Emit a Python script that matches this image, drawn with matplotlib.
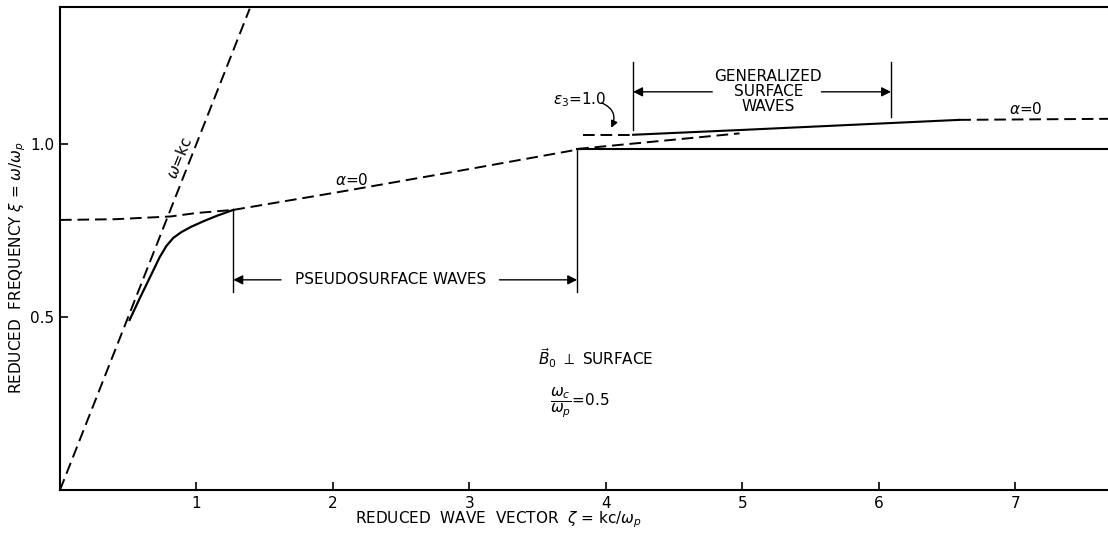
import numpy as np
import matplotlib.pyplot as plt

plt.rcParams['font.family'] = ['DejaVu Sans']
plt.rcParams['mathtext.fontset'] = 'dejavusans'

# light line omega = kc
light_x = [0.0, 1.39]
light_y = [0.0, 1.39]

# upper dashed branch near k = 0
upper_x = [0.0, 0.4, 0.81, 1.0, 1.27]
upper_y = [0.78, 0.782, 0.79, 0.80, 0.809]

# solid lower branch
lower_x = [0.51, 0.58, 0.66, 0.73, 0.78, 0.83, 0.89, 0.96, 1.05, 1.15, 1.27]
lower_y = [0.491, 0.55, 0.615, 0.672, 0.705, 0.728, 0.745, 0.760, 0.776, 0.792, 0.809]

# alpha = 0 dashed (pseudosurface region)
alpha_mid_x = [1.27, 2.05, 2.9, 3.79]
alpha_mid_y = [0.809, 0.861, 0.92, 0.983]

# flat solid line
flat_x = [3.79, 7.68]
flat_y = [0.985, 0.985]

# dashed link from junction up to upper curve
link_x = [3.79, 4.98]
link_y = [0.985, 1.03]

# eps3 = 1.0 dashed
eps_x = [3.83, 4.20]
eps_y = [1.026, 1.026]

# generalized surface wave solid branch
gen_x = [4.20, 5.0, 6.15, 6.59]
gen_y = [1.026, 1.04, 1.061, 1.069]

# alpha = 0 dashed at the right end
alpha_right_x = [6.59, 7.68]
alpha_right_y = [1.069, 1.072]

xticks = [1, 2, 3, 4, 5, 6, 7]
yticks = [0.5, 1.0]
ytick_labels = ['0.5', '1.0']

fig = plt.figure(figsize=(11.08, 5.36), dpi=100)
ax = fig.add_axes([60/1108, (536-490)/536, 1 - 60/1108, (490-7)/536])

dash = (0, (6, 3))
lw = 1.4
ax.plot(light_x, light_y, color='black', lw=lw, linestyle=dash)
ax.plot(upper_x, upper_y, color='black', lw=lw, linestyle=dash)
ax.plot(lower_x, lower_y, color='black', lw=1.6)
ax.plot(alpha_mid_x, alpha_mid_y, color='black', lw=lw, linestyle=dash)
ax.plot(flat_x, flat_y, color='black', lw=1.5)
ax.plot(link_x, link_y, color='black', lw=lw, linestyle=dash)
ax.plot(eps_x, eps_y, color='black', lw=lw, linestyle=dash)
ax.plot(gen_x, gen_y, color='black', lw=1.5)
ax.plot(alpha_right_x, alpha_right_y, color='black', lw=lw, linestyle=dash)

# pseudosurface waves bracket
ax.plot([1.27, 1.27], [0.572, 0.809], color='black', lw=1)
ax.plot([3.79, 3.79], [0.572, 0.983], color='black', lw=1)
arr = dict(arrowstyle='-|>', color='black', lw=1, mutation_scale=14, shrinkA=0, shrinkB=0)
ax.annotate('', xy=(1.27, 0.607), xytext=(1.62, 0.607), arrowprops=arr)
ax.annotate('', xy=(3.79, 0.607), xytext=(3.22, 0.607), arrowprops=arr)
ax.text(2.42, 0.607, 'PSEUDOSURFACE WAVES', ha='center', va='center', fontsize=11)

# generalized surface waves bracket
ax.plot([4.20, 4.20], [1.04, 1.237], color='black', lw=1)
ax.plot([6.09, 6.09], [1.078, 1.237], color='black', lw=1)
ax.annotate('', xy=(4.20, 1.150), xytext=(4.78, 1.150), arrowprops=arr)
ax.annotate('', xy=(6.09, 1.150), xytext=(5.58, 1.150), arrowprops=arr)
ax.text(5.19, 1.150, 'GENERALIZED\nSURFACE\nWAVES', ha='center', va='center',
        fontsize=11, linespacing=1.0)

# labels on curves
ax.text(0.88, 0.96, r'$\omega$=kc', rotation=68, ha='center', va='center', fontsize=11)
ax.text(2.14, 0.896, r'$\alpha$=0', ha='center', va='center', fontsize=11)
ax.text(7.08, 1.10, r'$\alpha$=0', ha='center', va='center', fontsize=11)
ax.text(3.81, 1.127, r'$\epsilon_3$=1.0', ha='center', va='center', fontsize=11)
ax.annotate('', xy=(4.04, 1.046), xytext=(3.97, 1.118),
            arrowprops=dict(arrowstyle='-|>', color='black', lw=1, mutation_scale=10,
                            connectionstyle='arc3,rad=-0.5', shrinkA=0, shrinkB=0))
ax.text(3.93, 0.38, r'$\vec{B}_0$ $\perp$ SURFACE', ha='center', va='center', fontsize=11)
ax.text(3.81, 0.25, r'$\dfrac{\omega_c}{\omega_p}$=0.5', ha='center', va='center', fontsize=11)

ax.set_xlim(0, 7.68)
ax.set_ylim(0, 1.395)
ax.set_xticks(xticks)
ax.set_xticklabels([str(t) for t in xticks], fontsize=11)
ax.set_yticks(yticks)
ax.set_yticklabels(ytick_labels, fontsize=11)
ax.tick_params(direction='in', length=6, width=1.2, pad=4)
ax.spines['right'].set_visible(False)
for s in ['left', 'bottom', 'top']:
    ax.spines[s].set_linewidth(1.5)

fig.text(0.45, (536-520)/536, r'REDUCED  WAVE  VECTOR  $\zeta$ = kc/$\omega_p$',
         ha='center', va='center', fontsize=11)
fig.text(18/1108, (536-268)/536, r'REDUCED  FREQUENCY $\xi$ = $\omega/\omega_p$',
         rotation=90, ha='center', va='center', fontsize=11)

fig.savefig('out.png', dpi=100)
